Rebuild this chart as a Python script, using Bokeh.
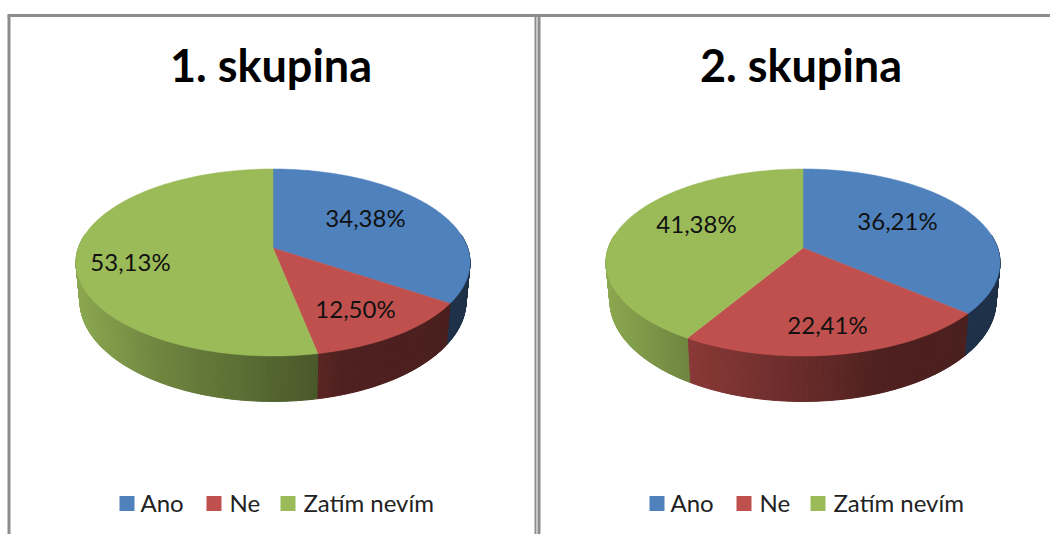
import numpy as np
from bokeh.plotting import figure
from bokeh.models import Range1d
from bokeh.core.properties import value
from bokeh.embed import file_html
from bokeh.resources import INLINE

# ---- data
categories = ["Ano", "Ne", "Zatím nevím"]
titles = ["1. skupina", "2. skupina"]
group_1 = [34.38, 12.50, 53.13]
group_2 = [36.21, 22.41, 41.38]
colors = ["#4f81bd", "#c0504d", "#9bbb59"]

# ---- layout (page pixels)
W, H = 1050, 534
CX = [272.5, 802.5]
APEX_Y, FAR_Y, NEAR_Y, RX = 247.5, 168.5, 355.5, 197.0
LABEL_POS = [[(365, 217), (355, 308), (130, 261)],
             [(897, 220), (827, 324), (696, 223)]]
TITLE_Y = 64
TITLE_X_OFF = -2
LEG_Y = 503
LEG_TEXT_Y = 501.5
LEG_SQ = [119, 206, 280]
LEG_TX = [140, 229, 303]
PANEL_DX = 530
BORDER = "#8c8c8c"

# perspective projection of the pie disc
c = (2 * APEX_Y - NEAR_Y - FAR_Y) / (NEAR_Y - FAR_Y)
a = NEAR_Y * (1 + c) - APEX_Y
r0 = RX * np.sqrt(1 - c * c)


def top(theta, cx):
    u, v = np.sin(theta), -np.cos(theta)
    d = 1 + c * v
    return cx + r0 * u / d, (a * v + APEX_Y) / d


def bottom(theta, cx):
    x, y = top(theta, cx)
    return cx + (x - cx) * 0.98, y + 41.5 + (y - 303) * 4 / 53


def shade(hex_color, f):
    r, g, b = (int(hex_color[i:i + 2], 16) for i in (1, 3, 5))
    return "#%02x%02x%02x" % (int(r * f), int(g * f), int(b * f))


p = figure(width=W, height=H, x_range=Range1d(0, W), y_range=Range1d(H, 0),
           x_axis_type=None, y_axis_type=None, toolbar_location=None,
           output_backend="svg", min_border=0, outline_line_color=None,
           background_fill_color="white", border_fill_color="white")
p.grid.visible = False

# panel frames
p.line([8.5, 8.5], [15, H], line_color=BORDER, line_width=3)
p.line([7, W], [15, 15], line_color=BORDER, line_width=3)
p.line([535, 535], [15, H], line_color=BORDER, line_width=2)
p.line([538.5, 538.5], [15, H], line_color=BORDER, line_width=3)

for k, (vals, cx) in enumerate(zip([group_1, group_2], CX)):
    fracs = np.array(vals) / sum(vals)
    edges = np.concatenate([[0], np.cumsum(fracs)]) * 2 * np.pi

    # walls, built of narrow quads so the shading can run along the rim
    wx, wy, wc = [], [], []
    for i, col in enumerate(colors):
        th = np.linspace(edges[i], edges[i + 1], max(3, int((edges[i + 1] - edges[i]) * 90)))
        for t0, t1 in zip(th[:-1], th[1:]):
            if -np.cos((t0 + t1) / 2) < -0.15:
                continue
            x0, y0 = top(t0, cx)
            x1, y1 = top(t1, cx)
            x2, y2 = bottom(t1, cx)
            x3, y3 = bottom(t0, cx)
            tt = ((x0 + x1) / 2 - (cx - RX)) / (2 * RX)
            f = np.interp(tt, [0, 0.2, 0.6, 0.68, 1], [0.9, 0.72, 0.48, 0.41, 0.38])
            wx.append([x0, x1, x2, x3])
            wy.append([y0, y1, y2, y3])
            wc.append(shade(col, f))
    p.patches(wx, wy, fill_color=wc, line_color=wc, line_width=1)

    # top faces
    for i, col in enumerate(colors):
        th = np.linspace(edges[i], edges[i + 1], 120)
        xs, ys = top(th, cx)
        p.patch(np.r_[cx, xs], np.r_[APEX_Y, ys], fill_color=col, line_color=col, line_width=0.5)

    # value labels
    lx = [q[0] for q in LABEL_POS[k]]
    ly = [q[1] for q in LABEL_POS[k]]
    tx = [f"{v:.2f}".replace(".", ",") + "%" for v in vals]
    p.text(lx, ly, text=tx, text_font=value("Lato"), text_font_size="24px",
           text_color="#111111", text_align="center", text_baseline="middle")

    # title
    p.text([cx + TITLE_X_OFF], [TITLE_Y], text=[titles[k]], text_font=value("Lato"),
           text_font_size="45px", text_font_style="bold", text_color="#000000",
           text_align="center", text_baseline="middle")

    # legend
    dx = PANEL_DX * k
    p.rect([s + 7.5 + dx for s in LEG_SQ], [LEG_Y] * 3, width=15, height=15,
           fill_color=colors, line_color=None)
    p.text([t + dx for t in LEG_TX], [LEG_TEXT_Y] * 3, text=categories, text_font=value("Lato"),
           text_font_size="24px", text_color="#222222", text_align="left", text_baseline="middle")

open("out.html", "w").write(file_html(p, INLINE))
